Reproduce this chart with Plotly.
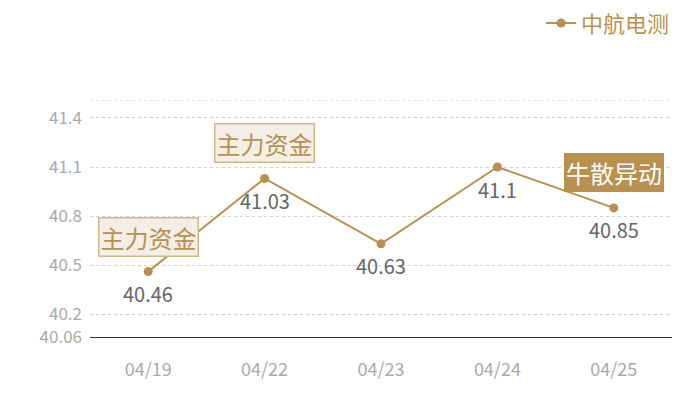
import plotly.graph_objects as go

# datos del gráfico
fechas = ["04/19", "04/22", "04/23", "04/24", "04/25"]
precios = [40.46, 41.03, 40.63, 41.10, 40.85]
serie = "中航电测"

# eventos marcados sobre los puntos
eventos_idx = [0, 1, 4]
eventos_txt = ["主力资金", "主力资金", "牛散异动"]
eventos_tipo = ["claro", "claro", "oscuro"]

y_min, y_max = 40.06, 41.51
ticks_y = [40.06, 40.2, 40.5, 40.8, 41.1, 41.4]
ticks_txt = ["40.06", "40.2", "40.5", "40.8", "41.1", "41.4"]

oro = "#b8904f"
fuente = "Noto Sans CJK SC"

fig = go.Figure()
fig.add_trace(go.Scatter(
    x=fechas, y=precios, name=serie,
    mode="lines+markers",
    line=dict(color=oro, width=2),
    marker=dict(color=oro, size=9),
    cliponaxis=False,
))

# etiquetas de valor debajo de cada punto
for f, v in zip(fechas, precios):
    fig.add_annotation(x=f, y=v, text=f"{v:g}", showarrow=False, yshift=-22,
                       font=dict(color="#666666", size=20, family=fuente))

for i, t, tipo in zip(eventos_idx, eventos_txt, eventos_tipo):
    if tipo == "claro":
        estilo = dict(font=dict(color=oro, size=24, family=fuente),
                      bgcolor="#f3eee6", bordercolor="#d2b68c", borderwidth=1.5)
    else:
        estilo = dict(font=dict(color="white", size=24, family=fuente),
                      bgcolor=oro, bordercolor=oro, borderwidth=1)
    fig.add_annotation(x=fechas[i], y=precios[i], text=t, showarrow=False,
                       yshift=35, borderpad=1, **estilo)

# linea de rejilla superior (maximo del eje)
fig.add_hline(y=y_max, line=dict(color="#d0d0d0", width=1, dash="dot"))

# la pagina deja ~8px de margen al cuerpo, se compensa en los margenes
fig.update_layout(
    width=700, height=400,
    margin=dict(l=82, r=36, t=92, b=71, autoexpand=False),
    plot_bgcolor="white", paper_bgcolor="white",
    font=dict(family=fuente),
    showlegend=True,
    legend=dict(xref="container", yref="container", x=0.953, xanchor="right",
                y=0.962, yanchor="middle", font=dict(color=oro, size=22, family=fuente),
                itemwidth=30, bgcolor="rgba(0,0,0,0)"),
    xaxis=dict(type="category", range=[-0.5, 4.5], autorange=False,
               showgrid=False, showline=True, linecolor="#333333",
               linewidth=1.2, ticks="", tickfont=dict(color="#aaaaaa", size=18, family=fuente),
               ticklabelstandoff=16),
    yaxis=dict(range=[y_min, y_max], autorange=False, tickvals=ticks_y, ticktext=ticks_txt,
               showgrid=True, gridcolor="#d0d0d0", griddash="dot", gridwidth=1,
               zeroline=False, showline=False, ticks="", ticklabelstandoff=7,
               tickfont=dict(color="#aaaaaa", size=17, family=fuente)),
)

fig.write_html("out.html")
